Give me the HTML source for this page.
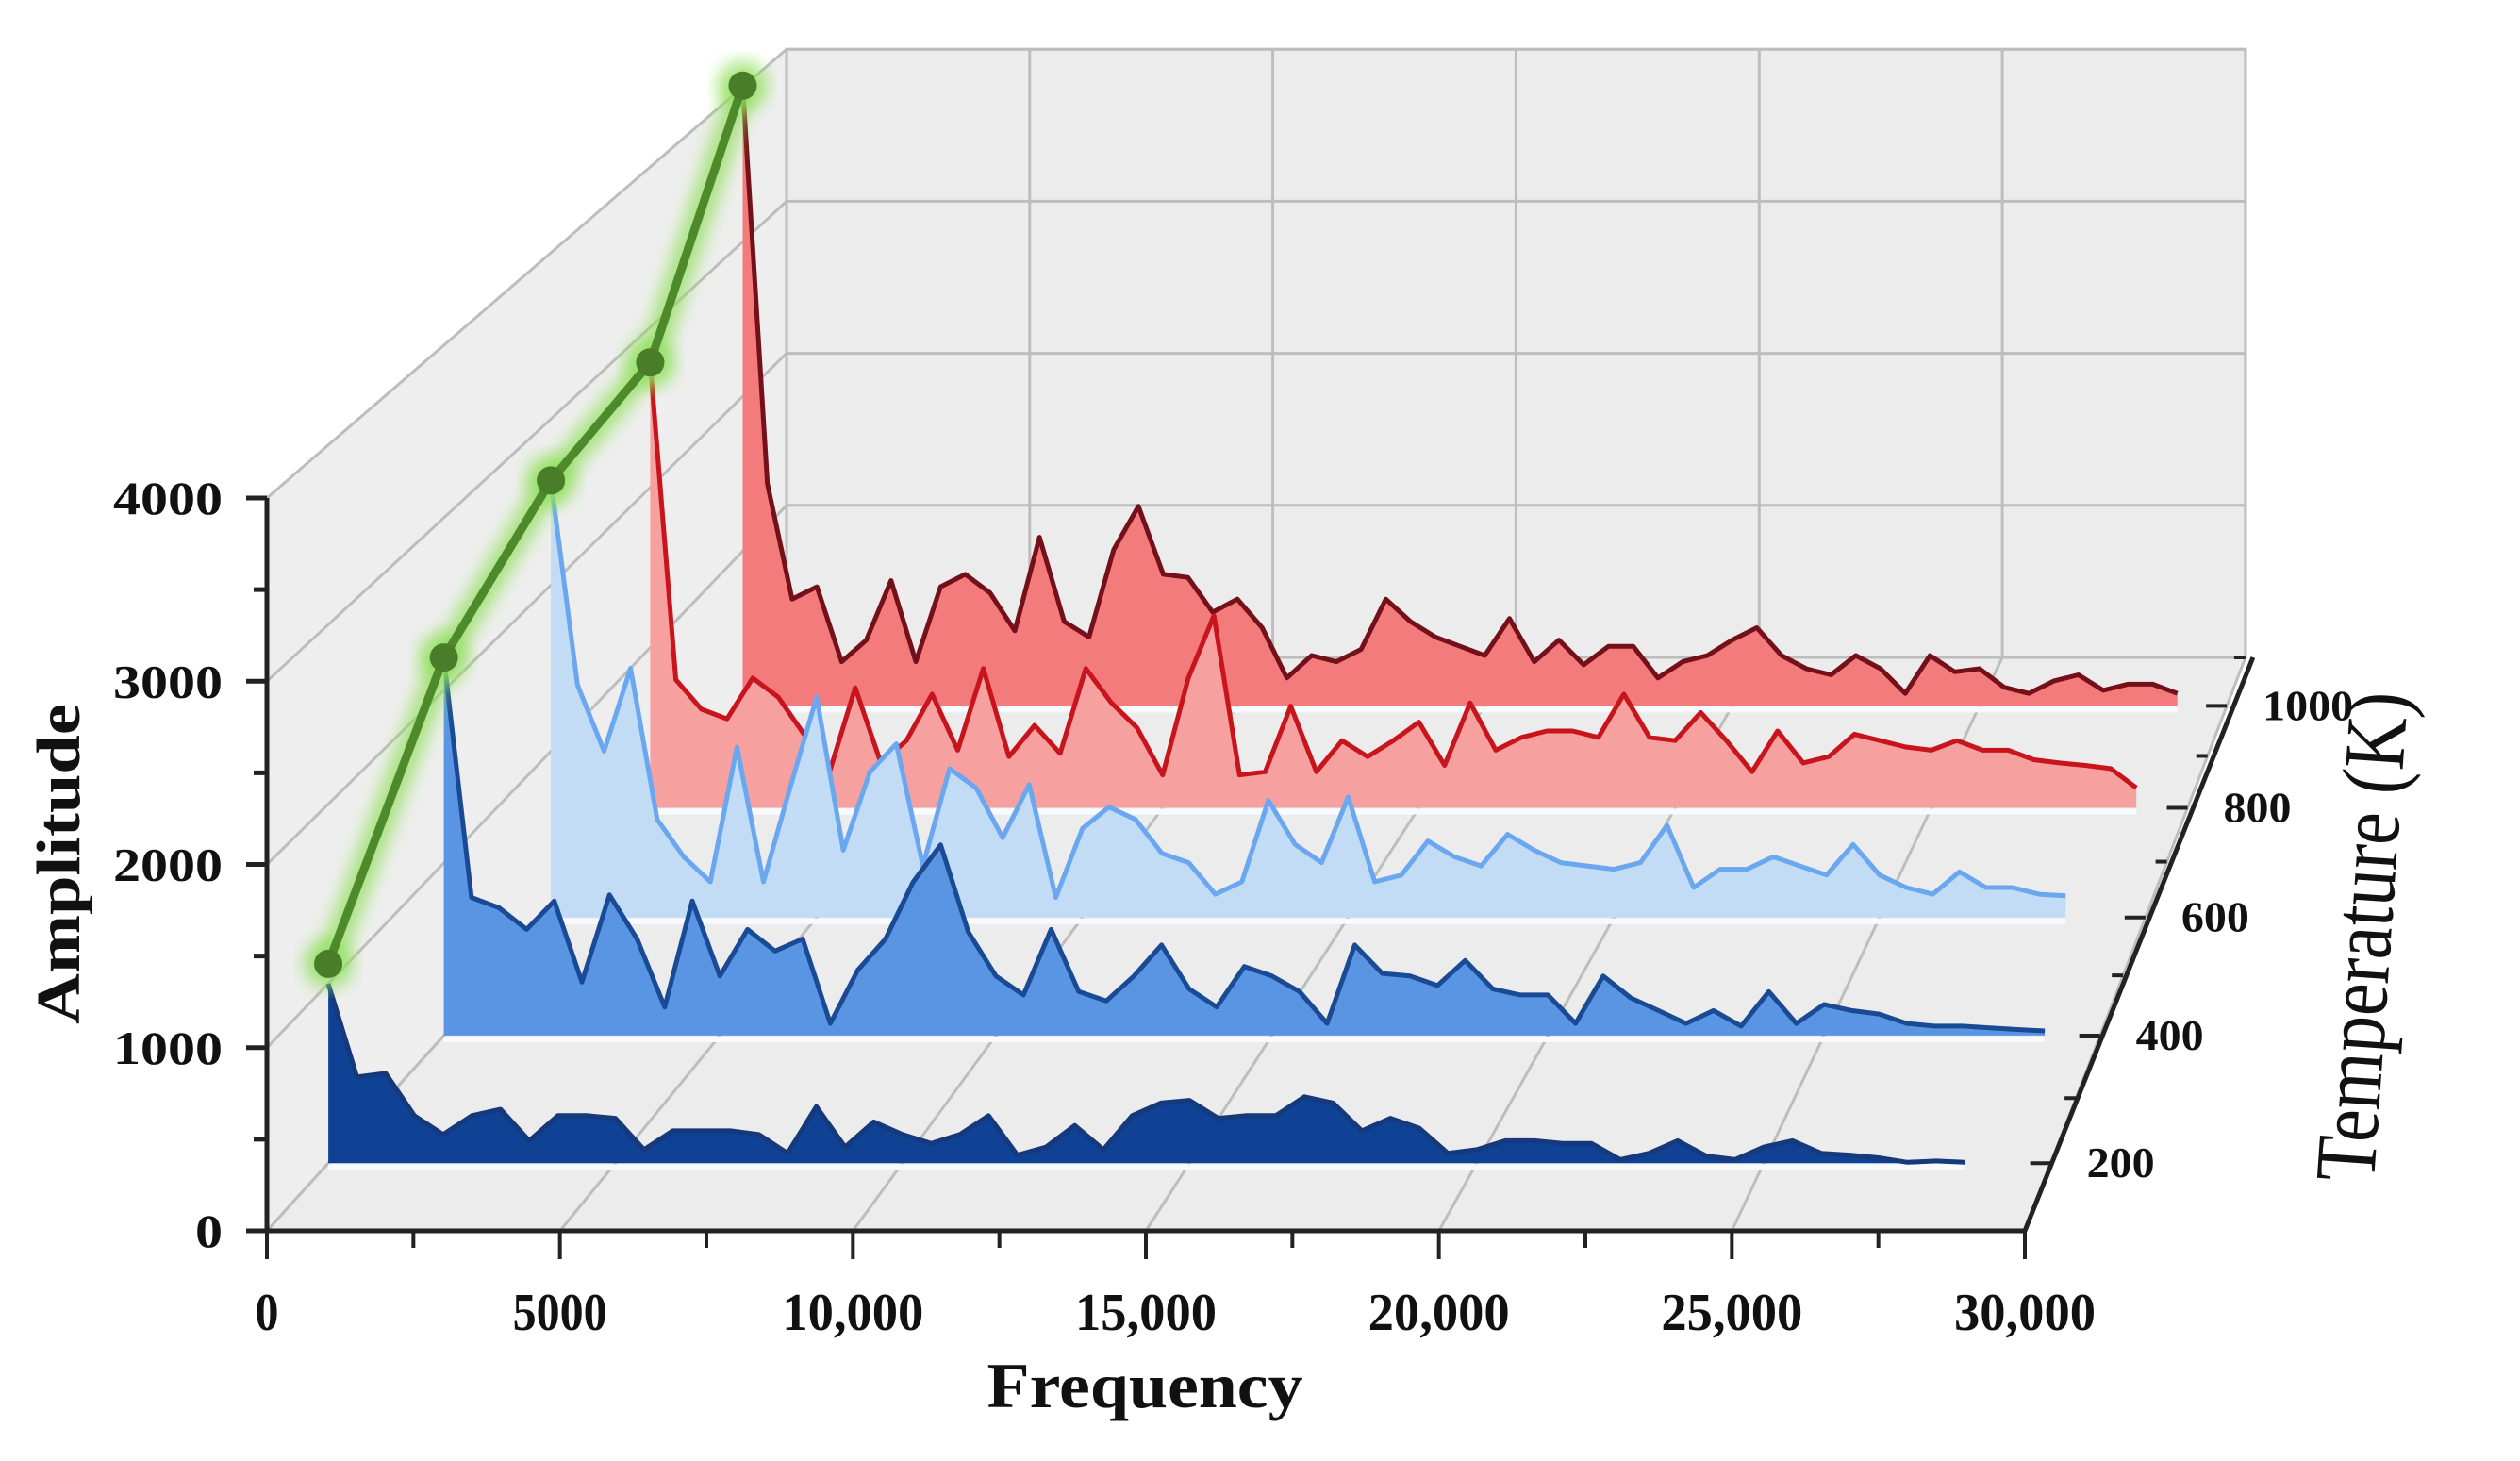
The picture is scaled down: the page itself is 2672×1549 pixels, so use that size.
<!DOCTYPE html>
<html><head><meta charset="utf-8">
<style>
html,body{margin:0;padding:0;background:#fff;}
svg{display:block;}
text{font-family:"Liberation Serif",serif;fill:#111;}
</style></head>
<body>
<svg id="chart" width="2672" height="1549" viewBox="0 0 2672 1549" xmlns="http://www.w3.org/2000/svg">
<defs>
<filter id="glow" x="-20%" y="-20%" width="140%" height="140%"><feGaussianBlur stdDeviation="9"/></filter>
</defs>
<g id="walls"></g>
<g id="grid"></g>
<g id="series"></g>
<g id="peakline"></g>
<g id="axes"></g>
</svg>
<script>
const temps = [200, 400, 600, 800, 1000];
const peakValues = [1110, 2190, 2630, 2780, 4010];
const freqStep = 500;
const amp200 = [1000,480,500,265,160,265,300,125,265,265,250,75,180,180,180,160,55,315,90,230,160,110,160,265,45,90,210,75,265,335,350,250,265,265,370,335,180,250,195,55,75,125,125,110,110,20,55,125,40,20,90,125,55,45,30,5,12,5];
const amp400 = [2190,800,740,615,780,310,815,560,165,780,345,615,490,560,70,380,560,890,1105,600,345,235,615,255,200,345,525,270,165,400,345,255,70,525,360,345,290,435,270,235,235,70,345,218,145,70,145,55,255,70,180,145,125,70,55,55,45,35,27];
const amp600 = [2630,1400,1000,1500,590,365,215,1025,215,780,1325,405,875,1045,310,895,780,480,800,120,535,665,590,385,330,140,215,705,440,330,725,215,255,460,365,310,500,405,330,310,290,330,555,180,290,290,365,310,255,440,255,180,140,275,180,180,140,130];
const amp800 = [2780,800,615,555,810,690,460,225,750,280,420,710,360,870,320,515,340,870,655,500,205,810,1200,205,225,635,225,420,320,420,535,265,655,360,440,480,480,440,710,440,420,595,420,225,480,280,320,460,420,380,360,420,360,360,300,280,265,245,125];
const amp1000 = [4010,1435,690,770,285,425,810,285,770,850,730,485,1090,545,445,1010,1290,850,830,605,690,505,180,325,285,365,690,545,445,385,325,565,285,425,265,385,385,180,285,325,425,505,325,240,200,325,240,80,325,220,240,120,80,160,200,100,140,140,80];
const seriesData = [amp200, amp400, amp600, amp800, amp1000];
const fillColors = ['#0f4194','#5a95e4','#c3dcf6','#f6a0a0','#f37b7c'];
const lineColors = ['#15397a','#1b4a94','#6aa7ef','#c8141c','#74101a'];
const ampTicks = [0,1000,2000,3000,4000];
const freqTicks = [0,5000,10000,15000,20000,25000,30000];
const freqLabels = ['0','5000','10,000','15,000','20,000','25,000','30,000'];

const X0=283, Y0=1305, W=1864, H=777, DX=551, DY=608, KB=1/1.205;
const FMAX=30000, AMAX=4000, TMIN=100, TMAX=1100, C=0.205;
function tOf(T){const d=(T-TMIN)/(TMAX-TMIN);const k=1/(1+C*d);return (1-k)/(1-KB);}
function kOf(t){return 1-(1-KB)*t;}
function P(f,a,t){const k=kOf(t);return [X0+DX*t+k*f/FMAX*W, Y0-DY*t-k*a/AMAX*H];}
const NS='http://www.w3.org/2000/svg';
function mk(tag,attrs,parent){const e=document.createElementNS(NS,tag);for(const k in attrs)e.setAttribute(k,attrs[k]);parent.appendChild(e);return e;}
const walls=document.getElementById('walls'),grid=document.getElementById('grid'),ser=document.getElementById('series'),pk=document.getElementById('peakline'),ax=document.getElementById('axes');
function pts(a){return a.map(p=>p[0].toFixed(1)+','+p[1].toFixed(1)).join(' ');}

let w;
w=mk('polygon',{points:pts([P(0,0,0),P(FMAX,0,0),P(FMAX,0,1),P(0,0,1)]),fill:'#ececec'},walls);

w=mk('polygon',{points:pts([P(0,0,0),P(0,AMAX,0),P(0,AMAX,1),P(0,0,1)]),fill:'#eeeeee'},walls);

w=mk('polygon',{points:pts([P(0,0,1),P(0,AMAX,1),P(FMAX,AMAX,1),P(FMAX,0,1)]),fill:'#ececec',stroke:'#c4c4c4','stroke-width':3},walls);

ampTicks.forEach(a=>{
  const l1=mk('polyline',{points:pts([P(0,a,0),P(0,a,1),P(FMAX,a,1)]),fill:'none',stroke:'#bdbdbd','stroke-width':3},grid);
  
});
freqTicks.forEach(f=>{
  const l2=mk('polyline',{points:pts([P(f,0,0),P(f,0,1),P(f,AMAX,1)]),fill:'none',stroke:'#bdbdbd','stroke-width':3},grid);
  
});
for(let i=seriesData.length-1;i>=0;i--){
  const t=tOf(temps[i]);const arr=seriesData[i];
  const line=arr.map((a,j)=>P(j*freqStep,a,t));
  const fEnd=(arr.length-1)*freqStep;
  const area=[P(0,0,t)].concat(line,[P(fEnd,0,t)]);
  const g=mk('g',{},ser);
  
  const fa=mk('polygon',{points:pts(area),fill:fillColors[i]},g);
  
  const bl=mk('line',{x1:P(0,0,t)[0],y1:P(0,0,t)[1]+4,x2:P(fEnd,0,t)[0],y2:P(fEnd,0,t)[1]+4,stroke:'#f7fbff','stroke-width':6},g);
  
  const ln=mk('polyline',{points:pts(line),fill:'none',stroke:lineColors[i],'stroke-width':5,'stroke-linejoin':'round'},g);
  
}
const ppts=peakValues.map((v,i)=>P(0,v,tOf(temps[i])));
const gl=mk('polyline',{points:pts(ppts),fill:'none',stroke:'#8fe05a','stroke-width':26,'stroke-linejoin':'round',opacity:0.8,filter:'url(#glow)'},pk);

ppts.forEach(p=>{const c=mk('circle',{cx:p[0],cy:p[1],r:26,fill:'#8fe05a',opacity:0.8,filter:'url(#glow)'},pk);
});
const pl=mk('polyline',{points:pts(ppts),fill:'none',stroke:'#4e8a2c','stroke-width':9,'stroke-linejoin':'round'},pk);

ppts.forEach((p,i)=>{const c=mk('circle',{cx:p[0],cy:p[1],r:15,fill:'#4a7d2a'},pk);
});

let e;
e=mk('line',{x1:X0,y1:Y0+2,x2:X0,y2:P(0,AMAX,0)[1],stroke:'#222','stroke-width':5},ax);

for(let a=0;a<=AMAX;a+=500){const y=P(0,a,0)[1];const L=a%1000===0?22:14;
  e=mk('line',{x1:X0-L,y1:y,x2:X0,y2:y,stroke:'#222','stroke-width':5},ax);
  }
ampTicks.forEach(a=>{const y=P(0,a,0)[1];const s=String(a);
  e=mk('text',{x:236,y:y+17,'text-anchor':'end','font-size':50,'font-weight':'bold',textLength:s.length*29,lengthAdjust:'spacingAndGlyphs'},ax);
  e.textContent=s;});
e=mk('line',{x1:X0-2,y1:Y0,x2:X0+W,y2:Y0,stroke:'#222','stroke-width':5},ax);

for(let f=0;f<=FMAX;f+=2500){const x=P(f,0,0)[0];const L=f%5000===0?30:18;
  e=mk('line',{x1:x,y1:Y0,x2:x,y2:Y0+L,stroke:'#222','stroke-width':4},ax);
  }
freqTicks.forEach((f,i)=>{const x=P(f,0,0)[0];const s=freqLabels[i];
  e=mk('text',{x:x,y:1410,'text-anchor':'middle','font-size':56,'font-weight':'bold',textLength:s.length*25,lengthAdjust:'spacingAndGlyphs'},ax);
  e.textContent=s;});
const a0=P(FMAX,0,0),a1=P(FMAX,0,1);
e=mk('line',{x1:a0[0],y1:a0[1],x2:a1[0]+8,y2:a1[1],stroke:'#222','stroke-width':5},ax);

e=mk('line',{x1:a0[0],y1:a0[1],x2:a0[0],y2:a0[1]+28,stroke:'#222','stroke-width':4},ax);

for(let T=200;T<=1100;T+=100){const p=P(FMAX,0,tOf(T));const L=T%200===0?22:12;
  e=mk('line',{x1:p[0]-L,y1:p[1],x2:p[0],y2:p[1],stroke:'#222','stroke-width':4},ax);
  }
temps.forEach(T=>{const p=P(FMAX,0,tOf(T));const s=String(T);
  e=mk('text',{x:p[0]+38,y:p[1]+15,'font-size':46,'font-weight':'bold',textLength:s.length*24,lengthAdjust:'spacingAndGlyphs'},ax);
  e.textContent=s;});
e=mk('text',{x:0,y:0,'text-anchor':'middle','font-size':66,'font-weight':'bold',textLength:340,lengthAdjust:'spacingAndGlyphs',transform:'translate(84,916) rotate(-90)'},ax);
e.textContent='Amplitude';
e=mk('text',{x:1214,y:1492,'text-anchor':'middle','font-size':68,'font-weight':'bold',textLength:335,lengthAdjust:'spacingAndGlyphs'},ax);
e.textContent='Frequency';
e=mk('text',{x:0,y:0,'text-anchor':'middle','font-size':92,textLength:520,lengthAdjust:'spacingAndGlyphs',transform:'translate(2535,995) rotate(-86)'},ax);
e.textContent='Temperature (K)';
</script>
</body></html>
